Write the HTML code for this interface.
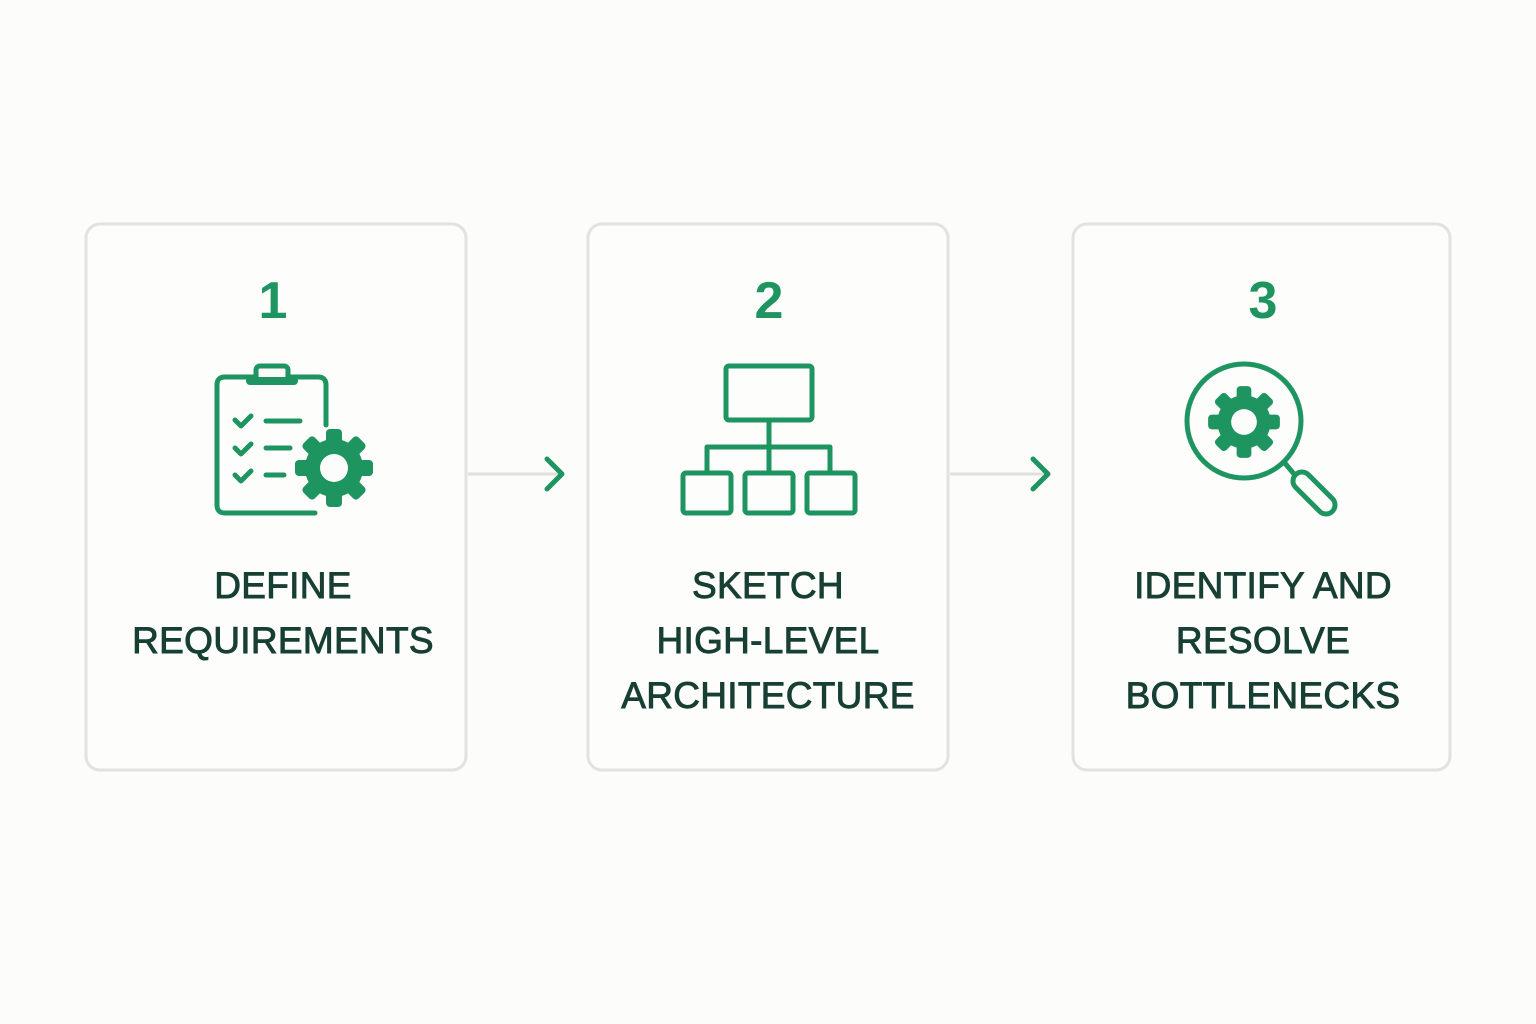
<!DOCTYPE html>
<html><head><meta charset="utf-8"><style>
html,body{margin:0;padding:0;background:#fcfcfa;}
svg{display:block}
.t{font-family:"Liberation Sans",sans-serif;font-size:37px;fill:#173f33;text-anchor:middle;stroke:#173f33;stroke-width:0.9;letter-spacing:0.3px}
.n{font-family:"Liberation Sans",sans-serif;font-size:52px;font-weight:bold;fill:#1e9460;text-anchor:middle}
.g{stroke:#1e9460;fill:none;stroke-width:5;stroke-linecap:round;stroke-linejoin:round}
</style></head><body>
<svg width="1536" height="1024" viewBox="0 0 1536 1024" xmlns="http://www.w3.org/2000/svg">
<defs>
<g id="gear">
<circle r="29" fill="#1e9460"/>
<g fill="#1e9460">
<rect x="-8" y="-39" width="16" height="20" rx="4"/>
<rect x="-8" y="-39" width="16" height="20" rx="4" transform="rotate(45)"/>
<rect x="-8" y="-39" width="16" height="20" rx="4" transform="rotate(90)"/>
<rect x="-8" y="-39" width="16" height="20" rx="4" transform="rotate(135)"/>
<rect x="-8" y="-39" width="16" height="20" rx="4" transform="rotate(180)"/>
<rect x="-8" y="-39" width="16" height="20" rx="4" transform="rotate(225)"/>
<rect x="-8" y="-39" width="16" height="20" rx="4" transform="rotate(270)"/>
<rect x="-8" y="-39" width="16" height="20" rx="4" transform="rotate(315)"/>
</g>
<circle r="14" fill="#fcfcfa"/>
</g>
</defs>
<rect width="1536" height="1024" fill="#fcfcfa"/>
<g fill="#fdfdfc" stroke="#e2e2e0" stroke-width="3">
<rect x="86" y="224" width="380" height="546" rx="14"/>
<rect x="588" y="224" width="360" height="546" rx="14"/>
<rect x="1073" y="224" width="377" height="546" rx="14"/>
</g>
<g stroke="#e0e0de" stroke-width="3">
<line x1="468" y1="474" x2="562" y2="474"/>
<line x1="950" y1="474" x2="1047" y2="474"/>
</g>
<g class="g">
<polyline points="547,459 562,474 547,489"/>
<polyline points="1033,459 1048,474 1033,489"/>
</g>
<text class="n" x="273" y="318">1</text>
<text class="n" x="769" y="318">2</text>
<text class="n" x="1263" y="318">3</text>
<g class="g">
<path d="M326,425 V385 Q326,377 318,377 H225 Q217,377 217,385 V505 Q217,513 225,513 H315"/>
<rect x="256" y="366" width="32" height="14" rx="4" fill="#fcfcfa"/>
<line x1="250" y1="381" x2="294" y2="381" stroke-width="8"/>
<polyline points="235,420 241,426 251,416"/>
<polyline points="235,448 241,454 251,444"/>
<polyline points="235,475 241,481 251,471"/>
<line x1="266" y1="421" x2="300" y2="421"/>
<line x1="266" y1="448" x2="290" y2="448"/>
<line x1="266" y1="475" x2="284" y2="475"/>
</g>
<use href="#gear" x="334" y="468"/>
<g class="g">
<rect x="726" y="366" width="86" height="54" rx="3"/>
<polyline points="769,420 769,447"/>
<polyline points="707,473 707,447 830,447 830,473"/>
<line x1="769" y1="447" x2="769" y2="473"/>
<rect x="683" y="473" width="48" height="40" rx="3"/>
<rect x="745" y="473" width="48" height="40" rx="3"/>
<rect x="807" y="473" width="48" height="40" rx="3"/>
</g>
<g class="g">
<circle cx="1244" cy="421" r="57"/>
<line x1="1284" y1="462" x2="1294" y2="474"/>
<rect x="1288" y="484" width="52" height="18" rx="9" transform="rotate(45 1314 493)"/>
</g>
<use href="#gear" x="1244" y="422" transform="translate(1244 422) scale(0.92) translate(-1244 -422)"/>
<text class="t" x="283" y="598">DEFINE</text>
<text class="t" x="283" y="653">REQUIREMENTS</text>
<text class="t" x="768" y="598">SKETCH</text>
<text class="t" x="768" y="653">HIGH-LEVEL</text>
<text class="t" x="768" y="708">ARCHITECTURE</text>
<text class="t" x="1263" y="598">IDENTIFY AND</text>
<text class="t" x="1263" y="653">RESOLVE</text>
<text class="t" x="1263" y="708">BOTTLENECKS</text>
</svg>
</body></html>
